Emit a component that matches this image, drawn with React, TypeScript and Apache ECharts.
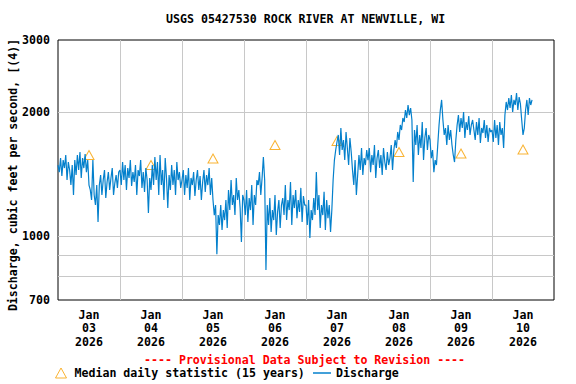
import React, { useEffect, useRef } from 'react';
import * as echarts from 'echarts';

const TITLE = 'USGS 05427530 ROCK RIVER AT NEWVILLE, WI';
const Y_NAME = 'Discharge, cubic feet per second, [(4)]';
const PROVISIONAL = '---- Provisional Data Subject to Revision ----';
const MEDIAN_NAME = 'Median daily statistic (15 years)';
const FLOW_NAME = 'Discharge';

// Half-hourly discharge (cfs), starting Jan 03 2026 00:00
const jan03 = [1490,1432,1549,1401,1532,1465,1576,1370,1515,1449,1332,1490,1260,1532,1409,1576,1449,1603,1386,1549,1465,1585,1432,1532,1332,1296,1225,1532,1260,1191,1332,1083,1332,1409,1260,1370,1449,1239,1355,1432,1296,1386,1465,1260,1347,1409,1311,1432];
const jan04 = [1449,1332,1515,1370,1490,1296,1465,1386,1532,1325,1432,1355,1490,1260,1449,1401,1532,1311,1432,1282,1465,1370,1139,1386,1296,1490,1332,1558,1370,1515,1260,1576,1332,1449,1225,1549,1386,1171,1409,1296,1490,1332,1449,1260,1515,1370,1432,1311];
const jan05 = [1370,1449,1260,1409,1311,1465,1225,1386,1332,1432,1253,1370,1449,1296,1401,1225,1355,1449,1282,1409,1332,1465,1260,1386,1225,1126,1191,905,1126,1065,1191,1036,1158,1095,1225,1047,1296,1158,1370,1191,1260,1126,1386,1225,1296,1171,968,1260];
const jan06 = [1225,1126,1296,1083,1239,1158,1332,1065,1260,1191,1370,1332,1432,1260,1386,1558,1370,828,1191,1065,1239,1024,1158,1095,1260,1007,1146,1225,1047,1191,1239,1126,1332,1095,1225,1158,1355,1065,1260,1171,1296,1107,1225,1146,1311,1083,1253,1191];
const jan07 = [1191,1065,1225,990,1158,1095,1239,1126,1432,1158,1260,1047,1191,1126,1282,1036,1225,1107,1191,1024,1158,1370,1532,1621,1695,1763,1576,1833,1621,1714,1532,1793,1639,1490,1734,1603,1449,1332,1532,1260,1409,1576,1449,1639,1409,1549,1490,1621];
const jan08 = [1532,1639,1432,1576,1490,1667,1386,1549,1621,1465,1576,1409,1639,1515,1449,1603,1490,1549,1667,1449,1621,1714,1639,1793,1714,1864,1813,1939,1896,2027,1939,2085,1971,2050,1917,1355,1813,1667,1864,1576,1763,1639,1896,1532,1734,1833,1621,1763];
const jan09 = [1714,1549,1621,1432,1532,1490,1667,1864,2027,2145,1917,1763,1833,1667,1864,1714,1813,1667,1576,1515,1714,1864,1971,1793,1939,1833,2005,1734,1896,1813,1961,1763,1864,1917,1813,1714,1896,1763,1939,1685,1833,1782,1917,1734,1864,1695,1833,1793];
const jan10 = [1813,1695,1917,1734,1864,1667,1896,1763,1833,1639,1971,2121,2027,2168,2050,2205,2005,2145,2085,2230,2027,2180,2097,1917,1763,1833,2027,2145,1971,2168,2085,2145];

const medianDays = [3, 4, 5, 6, 7, 8, 9, 10];
const medianValues = [1576, 1490, 1545, 1667, 1704, 1603, 1589, 1625];

const yLabelValues = [700, 1000, 2000, 3000];
const yGridValues = [800, 900, 1000, 2000];
const xLabelDays = [3, 4, 5, 6, 7, 8, 9, 10];
const xGridDays = [4, 5, 6, 7, 8, 9, 10];

const FONT = 'DejaVu Sans Mono';
const FS = 11.6;
const BLUE = '#0480cc';
const ORANGE = '#f7a000';

const dayMs = (d: number, h = 0) => new Date(2026, 0, d, h, 0, 0).getTime();

export default function App() {
  const ref = useRef<HTMLDivElement>(null);
  useEffect(() => {
    if (!ref.current) return;
    const chart = echarts.init(ref.current, undefined, { renderer: 'svg' });
    const flow = [...jan03, ...jan04, ...jan05, ...jan06, ...jan07, ...jan08, ...jan09, ...jan10];
    const t0 = dayMs(3);
    const flowData = flow.map((v, i) => [t0 + i * 30 * 60000, v]);
    const medianData = medianDays.map((d, i) => [dayMs(d, 12), medianValues[i]]);
    const pad = (n: number) => (n < 10 ? '0' + n : '' + n);
    const textBase = { fontFamily: FONT, fontWeight: 'bold' as const, fontSize: FS, color: '#000' };

    chart.setOption({
      animation: false,
      backgroundColor: '#fff',
      title: [
        { text: TITLE, left: 166, top: 13, padding: 0, textStyle: { ...textBase } },
        { text: PROVISIONAL, left: 144, top: 354, padding: 0, textStyle: { ...textBase, color: '#ff0000' } },
      ],
      legend: [
        {
          left: 55, top: 367, padding: 0, itemWidth: 11, itemHeight: 10,
          data: [{ name: MEDIAN_NAME, icon: 'triangle', itemStyle: { color: 'rgba(0,0,0,0)', borderColor: ORANGE, borderWidth: 1 } }],
          textStyle: { ...textBase, padding: [0, 0, 0, 3] },
        },
        {
          left: 313, top: 367, padding: 0, itemWidth: 18, itemHeight: 1.5,
          data: [{ name: FLOW_NAME, icon: 'rect', itemStyle: { color: BLUE } }],
          textStyle: { ...textBase },
        },
      ],
      grid: { left: 58, top: 40, right: 22, bottom: 84, show: true, borderColor: '#000', borderWidth: 1, containLabel: false, outerBoundsMode: 'none' },
      xAxis: {
        type: 'value',
        min: dayMs(3),
        max: dayMs(11),
        axisLine: { show: false },
        axisTick: { show: false, customValues: xGridDays.map((d) => dayMs(d)) },
        splitLine: { show: true, lineStyle: { color: '#c8c8c8', width: 1 } },
        axisLabel: {
          customValues: xLabelDays.map((d) => dayMs(d, 12)),
          formatter: (v: number) => 'Jan\n' + pad(new Date(v).getDate()) + '\n2026',
          ...textBase,
          lineHeight: 13.5,
          margin: 8,
          hideOverlap: false,
        },
      },
      yAxis: {
        type: 'log',
        logBase: 10,
        min: 700,
        max: 3000,
        name: Y_NAME,
        nameLocation: 'middle',
        nameGap: 39,
        nameMoveOverlap: false,
        nameTextStyle: { ...textBase, padding: [0, 10, 0, 0] },
        axisLine: { show: false },
        axisTick: { show: false, customValues: yGridValues },
        splitLine: { show: true, lineStyle: { color: '#c8c8c8', width: 1 } },
        minorSplitLine: { show: false },
        axisLabel: {
          customValues: yLabelValues,
          formatter: (v: number) => String(Math.round(v)),
          ...textBase,
          margin: 8,
          showMinLabel: true,
          showMaxLabel: true,
        },
      },
      series: [
        {
          name: MEDIAN_NAME,
          type: 'scatter',
          data: medianData,
          symbol: 'triangle',
          symbolSize: [10, 9],
          itemStyle: { color: 'rgba(0,0,0,0)', borderColor: ORANGE, borderWidth: 1 },
          z: 2,
        },
        {
          name: FLOW_NAME,
          type: 'line',
          data: flowData,
          showSymbol: false,
          symbol: 'none',
          lineStyle: { color: BLUE, width: 1.2 },
          itemStyle: { color: BLUE },
          z: 3,
        },
      ],
    });
    return () => chart.dispose();
  }, []);
  return <div ref={ref} style={{ position: 'fixed', left: 0, top: 0, width: 576, height: 384 }} />;
}
